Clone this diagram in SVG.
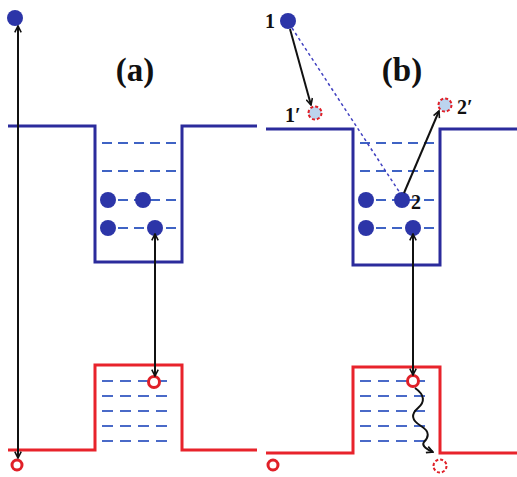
<svg xmlns="http://www.w3.org/2000/svg" width="517" height="477" viewBox="0 0 517 477">
<defs>
<style>
.cb{fill:none;stroke:#2b2b9c;stroke-width:3}
.vb{fill:none;stroke:#e8232b;stroke-width:3}
.bd{stroke:#3f63c4;stroke-width:2;stroke-dasharray:10,6}
.rd{stroke:#4a6ac8;stroke-width:2;stroke-dasharray:11,7}
.dot{fill:#2c35a8}
.hole{fill:#fff;stroke:#e02028;stroke-width:3}
.ghost{fill:#bcd4ee;stroke:#e02028;stroke-width:2;stroke-dasharray:3,2}
.ghostw{fill:#fff;stroke:#e02028;stroke-width:2;stroke-dasharray:3,2}
.ar{stroke:#111;stroke-width:2;fill:none}
.lbl{font-family:"Liberation Serif",serif;font-weight:bold;fill:#111}
</style>
<marker id="ah" viewBox="0 0 10 10" refX="9" refY="5" markerWidth="8" markerHeight="8" orient="auto-start-reverse" markerUnits="userSpaceOnUse">
<path d="M1,1 L9,5 L1,9" fill="none" stroke="#111" stroke-width="2"/>
</marker>
</defs>
<rect width="517" height="477" fill="#fff"/>

<g id="panel-a">
<g id="a-conduction-band">
<path class="cb" d="M8,126 H95 V262 H182 V126 H257"/>
<line class="bd" x1="102" y1="143" x2="180" y2="143"/>
<line class="bd" x1="102" y1="171" x2="180" y2="171"/>
<line class="bd" x1="102" y1="200" x2="180" y2="200"/>
<line class="bd" x1="102" y1="228" x2="180" y2="228"/>
</g>
<g id="a-valence-band">
<path class="vb" d="M8,450 H95 V365 H182 V450 H257"/>
<line class="rd" x1="102" y1="381" x2="170" y2="381"/>
<line class="rd" x1="102" y1="396" x2="170" y2="396"/>
<line class="rd" x1="102" y1="411" x2="170" y2="411"/>
<line class="rd" x1="102" y1="426" x2="170" y2="426"/>
<line class="rd" x1="102" y1="441" x2="170" y2="441"/>
</g>
<text class="lbl" x="135" y="81" font-size="33" text-anchor="middle">(a)</text>
<g id="a-electrons">
<circle class="dot" cx="15" cy="18" r="8"/>
<circle class="dot" cx="108" cy="200" r="8"/>
<circle class="dot" cx="143" cy="200" r="8"/>
<circle class="dot" cx="108" cy="228" r="8"/>
<circle class="dot" cx="155" cy="228" r="8"/>
</g>
<g id="a-holes">
<circle class="hole" cx="17" cy="465" r="5"/>
<circle class="hole" cx="154" cy="382" r="5.5"/>
</g>
</g>

<g id="panel-b">
<g id="b-conduction-band">
<path class="cb" d="M266,129 H353 V265 H440 V129 H517"/>
<line class="bd" x1="360" y1="143" x2="438" y2="143"/>
<line class="bd" x1="360" y1="171" x2="438" y2="171"/>
<line class="bd" x1="360" y1="200" x2="438" y2="200"/>
<line class="bd" x1="360" y1="228" x2="438" y2="228"/>
</g>
<g id="b-valence-band">
<path class="vb" d="M266,453 H353 V367 H440 V453 H517"/>
<line class="rd" x1="360" y1="381" x2="428" y2="381"/>
<line class="rd" x1="360" y1="396" x2="428" y2="396"/>
<line class="rd" x1="360" y1="411" x2="428" y2="411"/>
<line class="rd" x1="360" y1="426" x2="428" y2="426"/>
<line class="rd" x1="360" y1="441" x2="428" y2="441"/>
</g>
<text class="lbl" x="402" y="81" font-size="33" text-anchor="middle">(b)</text>
<g id="b-electrons">
<circle class="dot" cx="288" cy="21" r="8"/>
<circle class="dot" cx="366" cy="200" r="8"/>
<circle class="dot" cx="402" cy="200" r="8"/>
<circle class="dot" cx="366" cy="228" r="8"/>
<circle class="dot" cx="413" cy="228" r="8"/>
</g>
<g id="b-holes">
<circle class="hole" cx="273" cy="465" r="5"/>
<circle class="hole" cx="413" cy="381" r="5.5"/>
<circle class="ghost" cx="315" cy="113" r="6.5"/>
<circle class="ghost" cx="445" cy="105" r="6.5"/>
<circle class="ghostw" cx="440" cy="466" r="6.5"/>
</g>
<text class="lbl" x="265" y="28" font-size="20">1</text>
<text class="lbl" x="285" y="122" font-size="20">1′</text>
<text class="lbl" x="411" y="209" font-size="20">2</text>
<text class="lbl" x="457" y="114" font-size="20">2′</text>
</g>

<g id="connectors">
<line class="ar" x1="18" y1="26" x2="18" y2="458" marker-start="url(#ah)" marker-end="url(#ah)"/>
<line class="ar" x1="155" y1="234" x2="155" y2="376" marker-start="url(#ah)" marker-end="url(#ah)"/>
<line class="ar" x1="413" y1="234" x2="413" y2="375" marker-start="url(#ah)" marker-end="url(#ah)"/>
<line class="ar" x1="290" y1="29" x2="311" y2="105" marker-end="url(#ah)"/>
<line class="ar" x1="404" y1="193" x2="439" y2="111" marker-end="url(#ah)"/>
<line x1="292" y1="28" x2="400" y2="193" stroke="#4040c0" stroke-width="1.5" stroke-dasharray="3,3"/>
<path class="ar" stroke-width="1.6" d="M415,388 C425,395 425,402 418,408 C411,414 411,420 421,426 C431,432 428,438 424,442 C421,446 428,450 433,452" marker-end="url(#ah)"/>
</g>
</svg>
